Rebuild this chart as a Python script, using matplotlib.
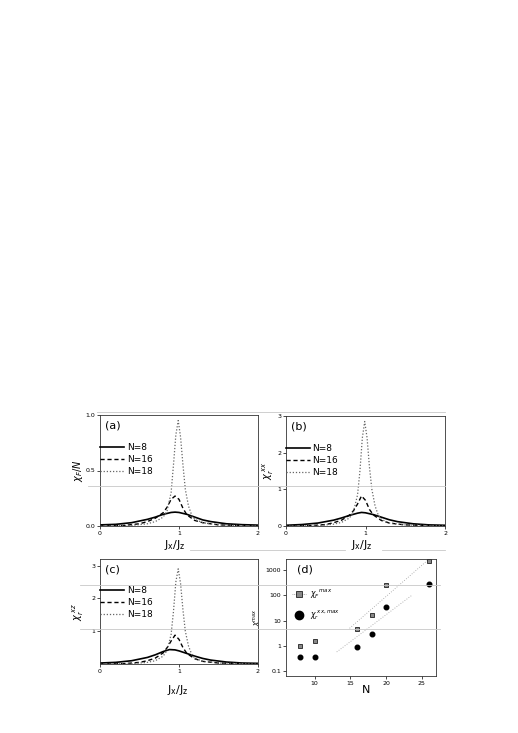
import numpy as np
import matplotlib.pyplot as plt
from matplotlib.lines import Line2D

# ---- data ----
# (a) chi_F / N
xa8 = [0, 0.2, 0.4, 0.6, 0.7, 0.8, 0.9, 0.95, 1.0, 1.1, 1.2, 1.3, 1.4, 1.6, 1.8, 2.0]
ya8 = [0.01, 0.015, 0.03, 0.06, 0.08, 0.105, 0.122, 0.125, 0.122, 0.105, 0.08, 0.055, 0.04, 0.02, 0.012, 0.008]
xa16 = [0, 0.3, 0.5, 0.6, 0.7, 0.8, 0.85, 0.9, 0.95, 1.0, 1.05, 1.1, 1.2, 1.3, 1.5, 2.0]
ya16 = [0.0, 0.005, 0.02, 0.04, 0.07, 0.12, 0.17, 0.24, 0.27, 0.24, 0.16, 0.1, 0.05, 0.03, 0.01, 0.0]
xa18 = [0, 0.4, 0.6, 0.7, 0.8, 0.85, 0.9, 0.93, 0.96, 0.99, 1.02, 1.05, 1.08, 1.12, 1.16, 1.2, 1.3, 1.5, 2.0]
ya18 = [0, 0.005, 0.02, 0.04, 0.08, 0.14, 0.3, 0.55, 0.82, 0.95, 0.8, 0.55, 0.33, 0.18, 0.1, 0.06, 0.03, 0.01, 0.0]

# (b) chi_r^xx
xb8 = [0, 0.2, 0.4, 0.6, 0.7, 0.8, 0.9, 0.95, 1.0, 1.1, 1.2, 1.3, 1.4, 1.6, 1.8, 2.0]
yb8 = [0.02, 0.04, 0.08, 0.16, 0.22, 0.29, 0.35, 0.37, 0.36, 0.31, 0.24, 0.17, 0.12, 0.06, 0.03, 0.02]
xb16 = [0, 0.3, 0.5, 0.6, 0.7, 0.8, 0.85, 0.9, 0.95, 1.0, 1.05, 1.1, 1.2, 1.3, 1.5, 2.0]
yb16 = [0.0, 0.01, 0.04, 0.09, 0.16, 0.3, 0.42, 0.6, 0.82, 0.7, 0.45, 0.3, 0.15, 0.08, 0.03, 0.0]
xb18 = [0, 0.4, 0.6, 0.7, 0.8, 0.85, 0.9, 0.93, 0.96, 0.99, 1.02, 1.05, 1.08, 1.12, 1.16, 1.2, 1.3, 1.5, 2.0]
yb18 = [0, 0.01, 0.05, 0.1, 0.22, 0.4, 0.85, 1.5, 2.4, 2.85, 2.4, 1.6, 1.0, 0.55, 0.3, 0.18, 0.08, 0.03, 0.0]

# (c) chi_r^xz
xc8 = [0, 0.2, 0.4, 0.6, 0.7, 0.8, 0.88, 0.95, 1.0, 1.1, 1.2, 1.3, 1.4, 1.6, 1.8, 2.0]
yc8 = [0.03, 0.05, 0.1, 0.2, 0.28, 0.38, 0.44, 0.43, 0.4, 0.32, 0.24, 0.17, 0.12, 0.06, 0.03, 0.02]
xc16 = [0, 0.3, 0.5, 0.6, 0.7, 0.8, 0.85, 0.9, 0.95, 1.0, 1.05, 1.1, 1.2, 1.3, 1.5, 2.0]
yc16 = [0.0, 0.01, 0.05, 0.1, 0.18, 0.34, 0.5, 0.7, 0.88, 0.75, 0.5, 0.32, 0.16, 0.08, 0.03, 0.0]
xc18 = [0, 0.4, 0.6, 0.7, 0.8, 0.85, 0.9, 0.93, 0.96, 0.99, 1.02, 1.05, 1.08, 1.12, 1.16, 1.2, 1.3, 1.5, 2.0]
yc18 = [0, 0.01, 0.05, 0.1, 0.24, 0.42, 0.9, 1.6, 2.5, 2.9, 2.45, 1.65, 1.0, 0.55, 0.3, 0.18, 0.08, 0.03, 0.0]

# (d) maxima vs N
n_sites = [8, 10, 16, 18, 20, 26]
chiF_max = [1.0, 1.6, 4.5, 17, 260, 2300]
chixx_max = [0.36, 0.36, 0.9, 3.0, 35, 280]
fitF_n = [14.9, 26]
fitF_v = [5, 2700]
fitxx_n = [13.1, 23.6]
fitxx_v = [0.58, 100]

fig = plt.figure(figsize=(5.18, 7.33), dpi=100)
W, H = 518.0, 733.0


def ax_at(x0, y0, x1, y1):
    # pixel box -> figure fraction
    return fig.add_axes([x0 / W, 1 - y1 / H, (x1 - x0) / W, (y1 - y0) / H])


def style(ax):
    ax.tick_params(labelsize=4.5, length=2, width=0.5, pad=1.5, direction='out')
    for s in ax.spines.values():
        s.set_linewidth(0.6)
        s.set_color('#333333')


def curves(ax, d8, d16, d18):
    ax.plot(*d8, color='black', lw=1.2, label='N=8')
    ax.plot(*d16, color='black', lw=1.0, ls=(0, (3, 2)), label='N=16')
    ax.plot(*d18, color='#666666', lw=0.9, ls=(0, (1, 1.5)), label='N=18')
    ax.set_xlim(0, 2)
    ax.set_xticks([0, 1, 2])
    ax.legend(loc='upper left', bbox_to_anchor=(-0.02, 0.78), frameon=False,
              fontsize=6.5, handlelength=2.6, handletextpad=0.3, labelspacing=0.35,
              borderaxespad=0)


# (a)
axa = ax_at(100, 415, 258, 526)
curves(axa, (xa8, ya8), (xa16, ya16), (xa18, ya18))
axa.set_ylim(0, 1.0)
axa.set_yticks([0.0, 0.5, 1.0])
axa.set_yticklabels(['0.0', '0.5', '1.0'])
axa.text(0.03, 0.95, '(a)', transform=axa.transAxes, fontsize=8, va='top')
axa.set_ylabel(r'$\chi_F/N$', fontsize=7, labelpad=0)
style(axa)

# (b)
axb = ax_at(286, 416, 445, 526)
curves(axb, (xb8, yb8), (xb16, yb16), (xb18, yb18))
axb.set_ylim(0, 3)
axb.set_yticks([0, 1, 2, 3])
axb.text(0.03, 0.95, '(b)', transform=axb.transAxes, fontsize=8, va='top')
axb.set_ylabel(r'$\chi_r^{\ xx}$', fontsize=7, labelpad=1)
style(axb)

# (c)
axc = ax_at(100, 559, 258, 664)
curves(axc, (xc8, yc8), (xc16, yc16), (xc18, yc18))
axc.set_ylim(0, 3.2)
axc.set_yticks([1, 2, 3])
axc.text(0.03, 0.95, '(c)', transform=axc.transAxes, fontsize=8, va='top')
axc.set_ylabel(r'$\chi_r^{\ xz}$', fontsize=7, labelpad=4)
style(axc)

# (d)
axd = ax_at(286, 559, 436, 676)
axd.set_yscale('log')
axd.plot(fitF_n, fitF_v, color='#999999', lw=0.6, ls=(0, (1, 2)))
axd.plot(fitxx_n, fitxx_v, color='#999999', lw=0.6, ls=(0, (1, 2)))
axd.plot(n_sites, chiF_max, ls='none', marker='s', ms=2.6, mfc='#888888',
         mec='black', mew=0.5)
axd.plot(n_sites, chixx_max, ls='none', marker='o', ms=3.3, color='black')
axd.set_xlim(6, 27)
axd.set_ylim(0.065, 2750)
axd.set_xticks([10, 15, 20, 25])
axd.set_yticks([0.1, 1, 10, 100, 1000])
axd.set_yticklabels(['0.1', '1', '10', '100', '1000'])
axd.minorticks_off()
axd.text(0.07, 0.95, '(d)', transform=axd.transAxes, fontsize=8, va='top')
axd.set_ylabel(r'$\chi^{max}$', fontsize=5, labelpad=2)
leg_h = [Line2D([], [], color='#999999', lw=0.6, ls=(0, (1, 1)), marker='s', ms=4,
                mfc='#888888', mec='black', mew=0.5),
         Line2D([], [], ls='none', marker='o', ms=6, color='black')]
axd.legend(leg_h, [r'$\chi_F^{\ \ max}$', r'$\chi_r^{\ xx,max}$'], loc='upper left',
           bbox_to_anchor=(0.02, 0.78), frameon=False, fontsize=5.5,
           handlelength=1.8, handletextpad=0.5, labelspacing=1.0, borderaxespad=0)
style(axd)

# x-axis labels
fig.text(175 / W, 1 - 545 / H, r'$\mathrm{J_x/J_z}$', fontsize=8, ha='center', va='center')
fig.text(362 / W, 1 - 545 / H, r'$\mathrm{J_x/J_z}$', fontsize=8, ha='center', va='center')
fig.text(178 / W, 1 - 690 / H, r'$\mathrm{J_x/J_z}$', fontsize=8, ha='center', va='center')
fig.text(366 / W, 1 - 690 / H, 'N', fontsize=8, ha='center', va='center')

# faint scan lines seen in the reference
gray = '#c8c8c8'
for (x0, y0, x1, y1) in [(97, 412, 445, 412), (88, 486, 445, 486),
                         (80, 585, 440, 585), (80, 629, 440, 629),
                         (190, 550, 345, 550), (382, 550, 445, 550)]:
    fig.add_artist(Line2D([x0 / W, x1 / W], [1 - y0 / H, 1 - y1 / H],
                          color=gray, lw=0.6))

fig.savefig('out.png', dpi=100)
